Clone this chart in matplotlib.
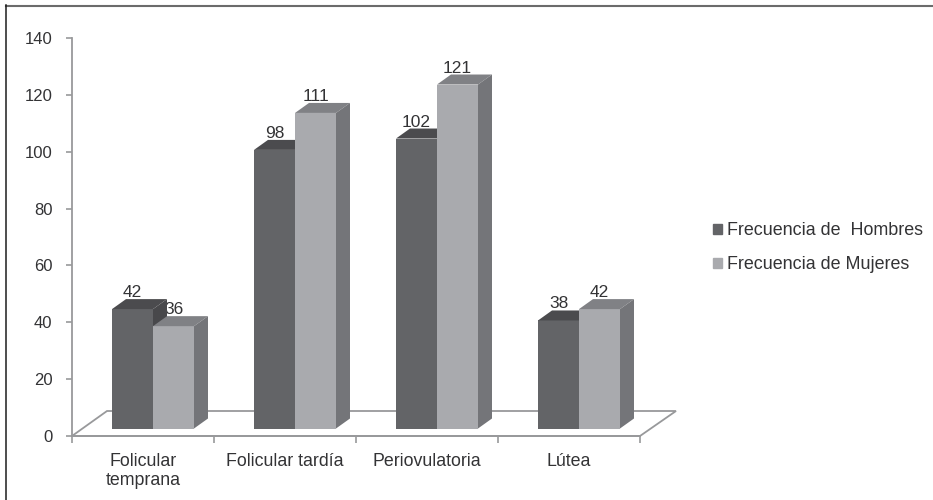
#!/usr/bin/env python3
"""Pseudo-3D clustered bars: frecuencia de hombres y mujeres por fase."""
import matplotlib
matplotlib.use('Agg')
import matplotlib.pyplot as plt
from matplotlib.lines import Line2D
from matplotlib.patches import Polygon, Patch

plt.rcParams['font.family'] = ['Liberation Sans', 'DejaVu Sans']

categories = ['Folicular\ntemprana', 'Folicular tardía', 'Periovulatoria', 'Lútea']
hombres = [42, 98, 102, 38]
mujeres = [36, 111, 121, 42]
y_ticks = [0, 20, 40, 60, 80, 100, 120, 140]

W, H = 933, 500
AX_L, AX_R, AX_T, AX_B = 72, 640, 38, 436
CAT_PX = (AX_R - AX_L) / len(categories)
Y_PX = (AX_B - AX_T) / 140

# depth of the fake 3D extrusion, in data units
DX = 14 / CAT_PX
DY = 10 / Y_PX
BAR_W = 41 / CAT_PX
BAR_X0 = 40 / CAT_PX      # first bar's left edge inside a category
BASE = 7.5 / Y_PX         # bars stand a little above the axis line

TEXT = '#333335'
AXIS = '#98999b'
DARK = ('#636467', '#4b4b4e', '#48484b')   # face, top, side
LIGHT = ('#a9aaae', '#808185', '#747579')


def draw_bar(ax, left, value, colors, z):
    face, top, side = colors
    right = left + BAR_W
    h = BASE + value
    ax.bar(left, value, BAR_W, bottom=BASE, align='edge', color=face, zorder=z, clip_on=False)
    ax.add_patch(Polygon([(left, h), (right, h), (right + DX, h + DY), (left + DX, h + DY)],
                         closed=True, fc=top, ec='none', zorder=z, clip_on=False))
    ax.add_patch(Polygon([(right, BASE), (right + DX, BASE + DY), (right + DX, h + DY), (right, h)],
                         closed=True, fc=side, ec='none', zorder=z, clip_on=False))


def main():
    fig = plt.figure(figsize=(W / 100, H / 100), dpi=100)
    ax = fig.add_axes([AX_L / W, 1 - AX_B / H, (AX_R - AX_L) / W, (AX_B - AX_T) / H])
    ax.set_xlim(0, len(categories))
    ax.set_ylim(0, 140)

    # floor of the chart
    ax.add_patch(Polygon([(0, 0), (len(categories), 0),
                          (len(categories) + 36 / CAT_PX, 25 / Y_PX), (35 / CAT_PX, 25 / Y_PX)],
                         closed=True, fc='white', ec=AXIS, lw=1.3, zorder=1, clip_on=False))

    for i, (m, w) in enumerate(zip(hombres, mujeres)):
        left = i + BAR_X0
        draw_bar(ax, left, m, DARK, 3)
        draw_bar(ax, left + BAR_W, w, LIGHT, 4)
        # the labels sit behind the bars, the first '36' is partly covered
        for x, v in ((left, m), (left + BAR_W, w)):
            ax.text(x + BAR_W / 2, BASE + v + DY + 6.5 / Y_PX, str(v), ha='center', va='center',
                    fontsize=12.5, color=TEXT, zorder=2, clip_on=False)

    for side in ('top', 'right'):
        ax.spines[side].set_visible(False)
    for side in ('left', 'bottom'):
        ax.spines[side].set_color(AXIS)
        ax.spines[side].set_linewidth(1.3)

    ax.set_yticks(y_ticks)
    ax.set_xticks(range(len(categories) + 1))
    ax.set_xticklabels([])
    ax.set_xticks([i + 0.5 for i in range(len(categories))], minor=True)
    ax.set_xticklabels(categories, minor=True, fontsize=12.8, color=TEXT, linespacing=1.2)
    ax.tick_params(axis='x', which='minor', length=0, pad=12)
    ax.tick_params(axis='x', which='major', length=5, color=AXIS, width=1.2)
    ax.tick_params(axis='y', length=4, color=AXIS, width=1.2, labelsize=12, labelcolor=TEXT, pad=10)

    handles = [Patch(color=DARK[0], label='Frecuencia de  Hombres'),
               Patch(color=LIGHT[0], label='Frecuencia de Mujeres')]
    fig.legend(handles=handles, loc='upper left', bbox_to_anchor=(713 / W, 1 - 222 / H), frameon=False,
               fontsize=12.9, labelcolor=TEXT, handlelength=0.5, handleheight=0.5,
               handletextpad=0.28, labelspacing=0.95, borderpad=0, borderaxespad=0)

    # frame of the scan: only the top and left edges show
    fig.add_artist(Line2D([6 / W, 1], [1 - 5.5 / H, 1 - 5.5 / H], transform=fig.transFigure,
                          color='#6b6b6b', lw=1.5))
    fig.add_artist(Line2D([6 / W, 6 / W], [0, 1 - 5 / H], transform=fig.transFigure,
                          color='#1c1c1c', lw=1.1))

    fig.savefig('out.png', dpi=100)
    plt.close(fig)


if __name__ == '__main__':
    main()
